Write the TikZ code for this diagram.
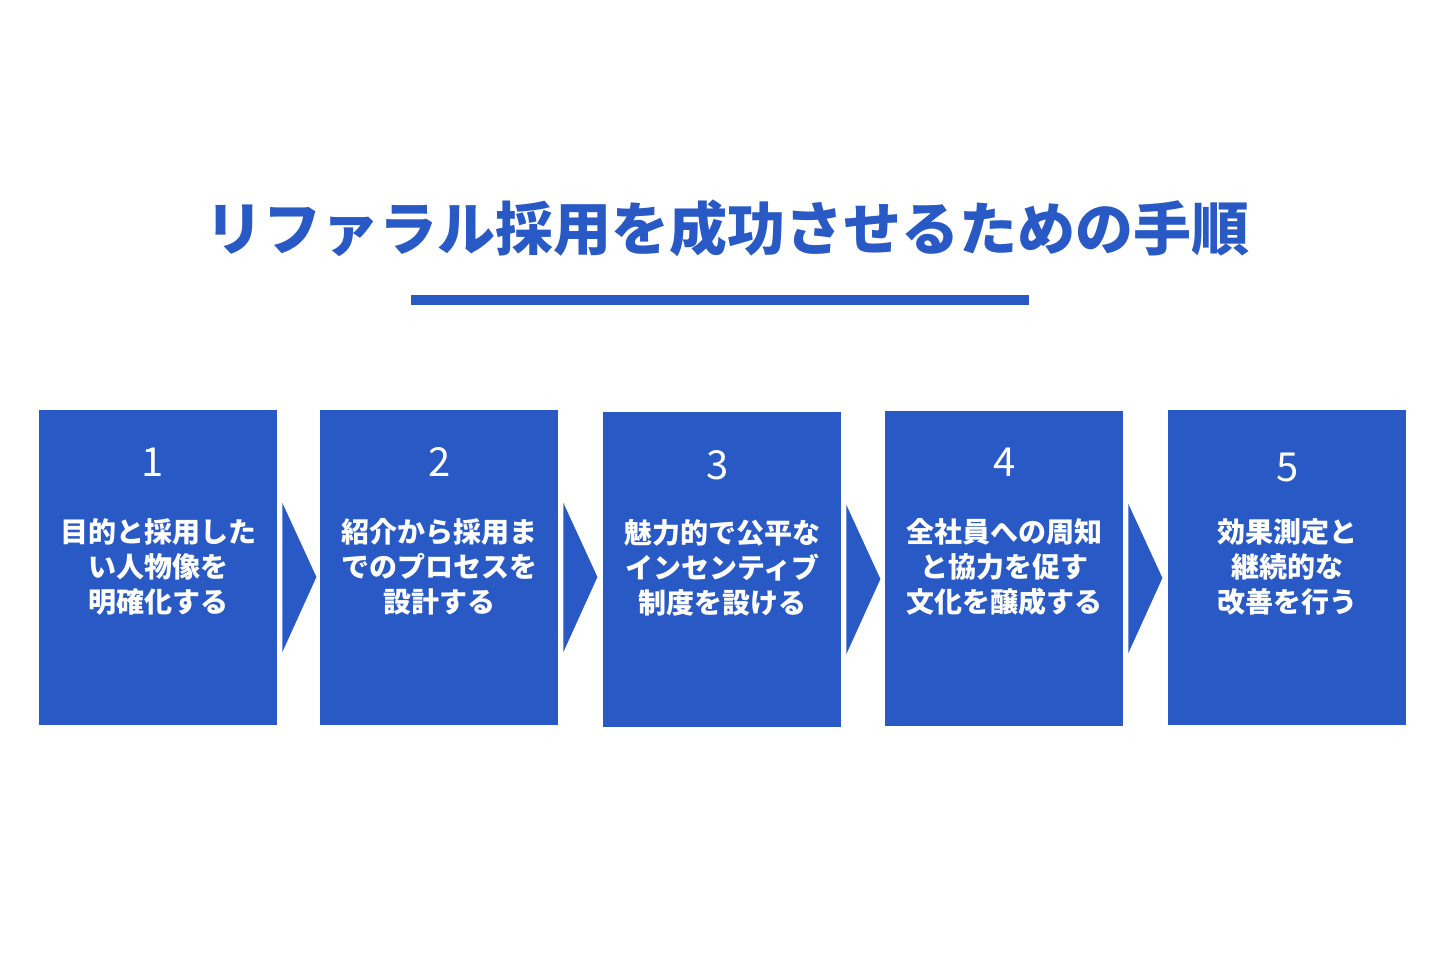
\documentclass[tikz,border=0pt]{standalone}
\usepackage{fontspec}
\setmainfont{Noto Sans CJK JP}
\usepackage{tikz}
\usetikzlibrary{calc}

\definecolor{stepblue}{HTML}{2859C5}

\tikzset{
  stepbox/.style={fill=stepblue,draw=none,minimum width=238pt,minimum height=315pt,anchor=north west,inner sep=0pt},
  stepnum/.style={text=white,font=\fontsize{40}{42}\selectfont},
  steptext/.style={text=white,align=center,font=\fontsize{28}{35}\selectfont\bfseries},
  chevron/.style={fill=stepblue,draw=none}
}

\begin{document}
\begin{tikzpicture}[x=1pt,y=-1pt]
    % Page
    \useasboundingbox (0,0) rectangle (1440,960);
    \fill[white] (0,0) rectangle (1440,960);

    % Title
    \node[text=stepblue,font=\fontsize{58}{62}\selectfont\bfseries] (title) at (727,228) {リファラル採用を成功させるための手順};
    \coordinate (ruleL) at (411,300);
    \coordinate (ruleR) at (1029,300);
    \draw[stepblue,line width=10pt] (ruleL) -- (ruleR);

    % Step boxes
    \node[stepbox] (box1) at (39,410) {};
    \node[stepbox] (box2) at (320,410) {};
    \node[stepbox] (box3) at (603,412) {};
    \node[stepbox] (box4) at (885,411) {};
    \node[stepbox] (box5) at (1168,410) {};

    % Step numbers
    \node[stepnum] (num1) at ($(box1.north)+(-6,52)$) {1};
    \node[stepnum] (num2) at ($(box2.north)+(0,52)$) {2};
    \node[stepnum] (num3) at ($(box3.north)+(-5,53)$) {3};
    \node[stepnum] (num4) at ($(box4.north)+(0,51)$) {4};
    \node[stepnum] (num5) at ($(box5.north)+(0,57)$) {5};

    % Step texts
    \node[steptext] (txt1) at ($(box1.north)+(0,157)$) {目的と採用した\\い人物像を\\明確化する};
    \node[steptext] (txt2) at ($(box2.north)+(0,157)$) {紹介から採用ま\\でのプロセスを\\設計する};
    \node[steptext] (txt3) at ($(box3.north)+(0,156)$) {魅力的で公平な\\インセンティブ\\制度を設ける};
    \node[steptext] (txt4) at ($(box4.north)+(0,156)$) {全社員への周知\\と協力を促す\\文化を醸成する};
    \node[steptext] (txt5) at ($(box5.north)+(0,157)$) {効果測定と\\継続的な\\改善を行う};

    % Chevrons between boxes
    \foreach \a/\b in {box1/box2,box2/box3,box3/box4,box4/box5}{
      \fill[chevron] ($(\a.north east)+(5,93)$) -- ($(\a.north east)+(39,167)$) -- ($(\a.north east)+(5,242)$) -- cycle;
    }
\end{tikzpicture}
\end{document}
